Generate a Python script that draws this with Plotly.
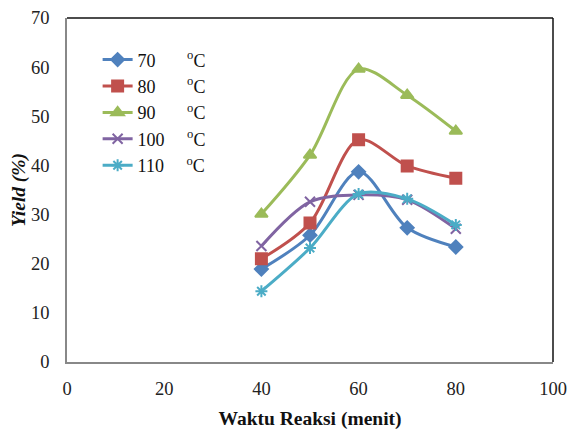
import plotly.graph_objects as go

waktu = [40, 50, 60, 70, 80]
suhu_labels = ["70", "80", "90", "100", "110"]
yield_70 = [18.9, 25.8, 38.7, 27.3, 23.4]
yield_80 = [21.0, 28.3, 45.2, 39.9, 37.4]
yield_90 = [30.1, 42.1, 59.6, 54.3, 47.0]
yield_100 = [23.6, 32.6, 34.0, 33.0, 27.1]
yield_110 = [14.4, 23.2, 34.2, 33.2, 27.9]

series = [yield_70, yield_80, yield_90, yield_100, yield_110]
colors = ["#4F81BD", "#C0504D", "#9BBB59", "#8064A2", "#4BACC6"]
symbols = ["diamond", "square", "triangle-up", "x-thin-open", "asterisk-open"]
sizes = [10, 11, 11, 10, 10]

font_family = "Liberation Serif"

fig = go.Figure()
for lab, ys, c, s, sz in zip(suhu_labels, series, colors, symbols, sizes):
    pad = "\u00a0" * (7 if len(lab) == 2 else 5)
    fig.add_trace(go.Scatter(
        x=waktu, y=ys, mode="lines+markers", name=f"{lab}{pad}<sup>o</sup>C",
        line=dict(color=c, width=3, shape="spline", smoothing=0.9),
        marker=dict(symbol=s, size=sz, color=c, line=dict(color=c, width=2)),
    ))

fig.update_layout(
    width=569, height=430,
    margin=dict(l=67, r=16, t=18, b=68),
    paper_bgcolor="white", plot_bgcolor="white",
    font=dict(family=font_family, size=16, color="#222"),
    showlegend=True,
    legend=dict(x=0.063, y=0.932, xanchor="left", yanchor="top",
                bgcolor="rgba(0,0,0,0)", font=dict(size=18, family=font_family, color="#111"),
                tracegroupgap=0, itemwidth=30),
    xaxis=dict(range=[0, 100], tickvals=[0, 20, 40, 60, 80, 100], showgrid=False, zeroline=False,
               showline=True, linecolor="#888", linewidth=1.5, mirror=False, ticks="",
               ticklabelstandoff=9, automargin=False,
               tickfont=dict(family=font_family, size=18.5, color="#222"),
               title=dict(text="<b>Waktu Reaksi (menit)</b>", font=dict(size=19.5, family=font_family, color="#111"), standoff=17)),
    yaxis=dict(range=[0, 70], tickvals=[0, 10, 20, 30, 40, 50, 60, 70], showgrid=False, zeroline=False,
               showline=True, linecolor="#888", linewidth=1.5, ticks="", ticklabelstandoff=12,
               automargin=False,
               tickfont=dict(family=font_family, size=18.5, color="#222"),
               title=dict(text="<b><i>Yield (%)</i></b>", font=dict(size=19.5, family=font_family, color="#111"), standoff=0)),
    shapes=[
        dict(type="line", xref="paper", yref="paper", x0=0, x1=1, y0=1, y1=1, line=dict(color="#111", width=1.5)),
        dict(type="line", xref="paper", yref="paper", x0=1, x1=1, y0=0, y1=1, line=dict(color="#111", width=1.5)),
    ],
)

fig.write_html("out.html", config={"displayModeBar": False},
               post_script="document.body.style.margin='0';document.body.style.padding='0';")
